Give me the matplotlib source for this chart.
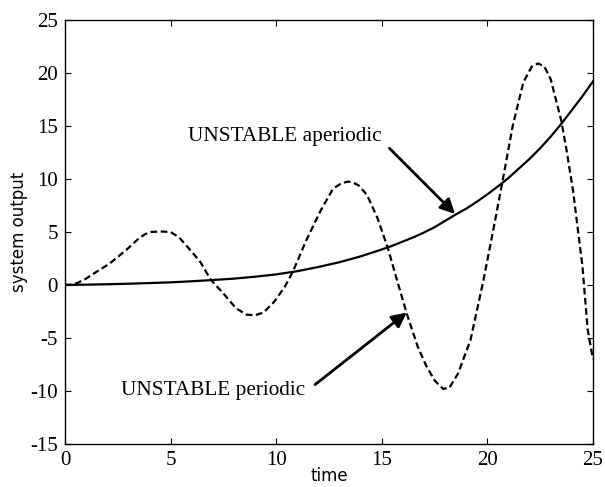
import matplotlib
matplotlib.use("Agg")
import matplotlib.pyplot as plt

plt.rcParams["axes.unicode_minus"] = False

# aperiodic (solid) response
t_aper = [0, 1, 2, 3, 4, 5, 6, 7, 8, 9, 10, 11, 12, 13, 14, 15, 15.5, 16, 16.5, 17, 17.5, 18,
          18.5, 19, 19.5, 20, 20.5, 21, 21.5, 22, 22.5, 23, 23.5, 24, 24.5, 25]
y_aper = [0, 0.03, 0.07, 0.12, 0.18, 0.25, 0.35, 0.47, 0.6, 0.78, 1.0, 1.3, 1.7, 2.15, 2.7,
          3.35, 3.7, 4.1, 4.5, 4.95, 5.45, 6.05, 6.65, 7.2, 7.85, 8.55, 9.3, 10.1, 11.0, 11.9,
          12.9, 14.0, 15.2, 16.5, 17.8, 19.2]

# periodic (dashed) response
t_per = [0.0, 0.3, 0.6, 1.0, 1.3, 2.1, 2.9, 3.5, 3.8, 4.1, 4.5, 5.0, 5.4, 5.8, 6.4, 6.9, 7.5,
         8.1, 8.6, 9.0, 9.4, 9.9, 10.4, 10.8, 11.4, 12.1, 12.7, 13.1, 13.4, 13.6, 13.9, 14.3,
         14.8, 15.3, 15.7, 16.2, 16.7, 17.1, 17.5, 17.9, 18.2, 18.6, 19.2, 19.8, 20.3, 20.7,
         21.2, 21.7, 22.1, 22.4, 22.7, 23.0, 23.5, 23.75, 24.05, 24.3, 24.5, 24.75, 25.0]
y_per = [0.0, 0.03, 0.2, 0.6, 1.0, 2.0, 3.3, 4.4, 4.8, 5.0, 5.05, 5.0, 4.5, 3.6, 2.2, 0.5, -0.8,
         -2.2, -2.8, -2.85, -2.6, -1.6, -0.2, 1.3, 4.1, 7.0, 9.1, 9.6, 9.75, 9.7, 9.4, 8.5,
         6.3, 3.4, 0.6, -2.8, -5.8, -7.6, -9.0, -9.8, -9.7, -8.4, -5.2, 0.3, 5.4, 9.6,
         15.0, 19.1, 20.6, 20.9, 20.6, 19.4, 15.5, 12.7, 9.0, 5.0, 1.8, -4.2, -7.0]

x_ticks = [0, 5, 10, 15, 20, 25]
y_ticks = [-15, -10, -5, 0, 5, 10, 15, 20, 25]

fig = plt.figure(figsize=(6.05, 4.87), dpi=100)
ax = fig.add_axes([0.1074, 0.0883, 0.8727, 0.8707])

ax.plot(t_aper, y_aper, color="black", lw=1.6)
ax.plot(t_per, y_per, color="black", lw=1.6, dashes=(3, 1.6))

ax.set_xlim(0, 25)
ax.set_ylim(-15, 25)
ax.set_xticks(x_ticks)
ax.set_yticks(y_ticks)
ax.tick_params(direction="in", length=4, width=0.8, top=True, right=True, pad=5)
for lab in ax.get_xticklabels() + ax.get_yticklabels():
    lab.set_family("Liberation Serif")
    lab.set_fontsize(15)
for s in ax.spines.values():
    s.set_linewidth(1.0)

ax.set_xlabel("time", fontsize=12, labelpad=-2)
ax.set_ylabel("system output", fontsize=12, labelpad=2)

arrow = dict(arrowstyle="-|>", color="black", lw=2, mutation_scale=22, shrinkA=0, shrinkB=0)
ax.annotate("", xy=(18.47, 6.7), xytext=(15.36, 12.9), arrowprops=arrow)
ax.annotate("", xy=(16.18, -2.6), xytext=(11.84, -9.4), arrowprops=arrow)
ax.text(5.82, 13.96, "UNSTABLE aperiodic", family="Liberation Serif", fontsize=15.3, va="center")
ax.text(2.64, -10.0, "UNSTABLE periodic", family="Liberation Serif", fontsize=15.3, va="center")

fig.savefig("out.png", dpi=100)
